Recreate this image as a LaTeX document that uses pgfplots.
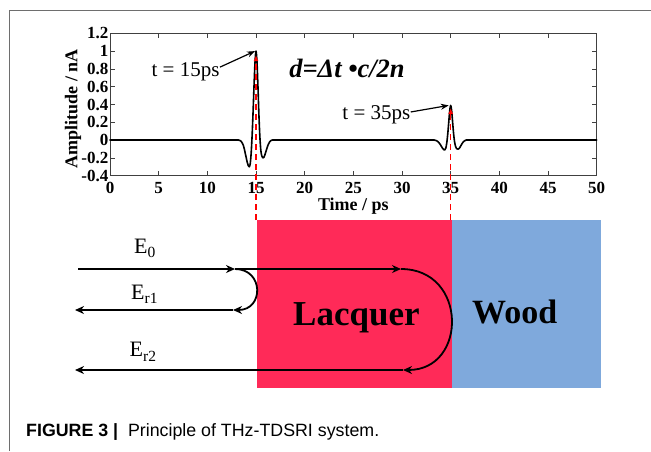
\documentclass[border=0pt]{standalone}
\usepackage{fontspec}
\setmainfont{Liberation Serif}
\newfontfamily\capfont{Liberation Sans}
\usepackage{pgfplots}
\pgfplotsset{compat=1.18}
\usetikzlibrary{arrows.meta}
\definecolor{lacq}{RGB}{255,42,88}
\definecolor{wood}{RGB}{127,169,220}
\definecolor{axgray}{RGB}{64,64,64}
\definecolor{framegray}{RGB}{110,110,110}
\newcommand{\Esub}[1]{{\fontsize{22}{26}\selectfont E\raisebox{-4.5pt}{\fontsize{15.5}{18}\selectfont #1}}}
\begin{document}
\begin{tikzpicture}
% ---------- background schematic (pixel coordinates, y downward)
\begin{axis}[name=bg, at={(0pt,0pt)}, anchor=south west, scale only axis,
  width=651pt, height=451pt, xmin=0, xmax=651, ymin=0, ymax=451,
  y dir=reverse, hide axis, clip=false]
\draw[framegray, line width=0.8pt] (axis cs:9,451) -- (axis cs:9,10) -- (axis cs:651,10);
\addplot[fill=lacq, draw=none] coordinates {(256.7,220) (451.7,220) (451.7,388) (256.7,388)} -- cycle;
\addplot[fill=wood, draw=none] coordinates {(451.7,220) (600.7,220) (600.7,388) (451.7,388)} -- cycle;
% arrows
\draw[black, line width=1.8pt, -{Stealth[length=9pt,width=8pt]}] (axis cs:78,269) -- (axis cs:235,269);
\draw[black, line width=1.8pt, -{Stealth[length=9pt,width=8pt]}] (axis cs:235,269) -- (axis cs:401,269);
\draw[black, line width=1.8pt, -{Stealth[length=9pt,width=8pt]}] (axis cs:235,269) .. controls (axis cs:264,269) and (axis cs:264,310) .. (axis cs:233,310);
\draw[black, line width=1.8pt, -{Stealth[length=9pt,width=8pt]}] (axis cs:233,310) -- (axis cs:75,310);
\draw[black, line width=1.8pt, -{Stealth[length=9pt,width=8pt]}] (axis cs:401,269) .. controls (axis cs:467.7,269) and (axis cs:467.7,370) .. (axis cs:403,370);
\draw[black, line width=1.8pt, -{Stealth[length=9pt,width=8pt]}] (axis cs:403,370) -- (axis cs:75,370);
% labels
\node[anchor=base west, inner sep=0pt] at (axis cs:134,253.3) {\Esub{0}};
\node[anchor=base west, inner sep=0pt] at (axis cs:131,299.3) {\Esub{r1}};
\node[anchor=base west, inner sep=0pt] at (axis cs:129.5,356.7) {\Esub{r2}};
\node[anchor=base west, inner sep=0pt, font=\fontsize{35}{38}\selectfont\bfseries] at (axis cs:293,325) {Lacquer};
\node[anchor=base west, inner sep=0pt, font=\fontsize{34}{38}\selectfont\bfseries] at (axis cs:472,323) {Wood};
% caption
\node[anchor=base west, inner sep=0pt, font=\capfont\fontsize{17.8}{20}\selectfont] at (axis cs:26,436.7) {\textbf{FIGURE 3 |}\hspace{0.55em}Principle of THz-TDSRI system.};
\end{axis}
% ---------- signal plot
\begin{axis}[at={(110pt,275.3pt)}, anchor=south west, scale only axis,
  width=486.7pt, height=142.4pt,
  xmin=0, xmax=50, ymin=-0.4, ymax=1.2,
  xtick={0,5,10,15,20,25,30,35,40,45,50},
  ytick={-0.4,-0.2,0,0.2,0.4,0.6,0.8,1,1.2},
  tick align=inside, tick pos=both,
  axis line style={axgray, line width=0.9pt},
  major tick style={axgray, line width=0.8pt}, major tick length=4.5pt,
  /pgf/number format/assume math mode=true,
  tick label style={font=\fontsize{17}{17}\selectfont\bfseries},
  yticklabel style={inner sep=1.5pt},
  xticklabel style={inner sep=1.5pt, yshift=-5pt},
  xlabel={Time / ps}, ylabel={Amplitude / nA},
  label style={font=\fontsize{18}{18}\selectfont\bfseries},
  xlabel style={at={(axis description cs:0.5,-0.215)}, anchor=center},
  ylabel style={at={(axis description cs:-0.076,0.47)}, anchor=center},
  clip=false]
\addplot[black, line width=1.6pt, line cap=round] coordinates {(0,0) (13.2,0)};
\addplot[black, line width=1.6pt, line cap=round] coordinates {(16.7,0) (33.3,0)};
\addplot[black, line width=1.6pt, line cap=round] coordinates {(36.6,0) (50,0)};
\addplot[black, line width=1.6pt, line cap=round, line join=round, smooth, tension=0.5] coordinates {
(13.2,0) (13.3,-0.003) (13.4,-0.008) (13.5,-0.018) (13.6,-0.035) (13.7,-0.06) (13.8,-0.10)
(13.9,-0.15) (14.0,-0.20) (14.1,-0.25) (14.2,-0.285) (14.3,-0.30) (14.4,-0.27) (14.5,-0.15)
(14.6,0.05) (14.7,0.32) (14.8,0.62) (14.9,0.88) (15.0,1.00) (15.1,0.88) (15.2,0.60)
(15.3,0.28) (15.4,0.03) (15.5,-0.12) (15.6,-0.18) (15.7,-0.20) (15.8,-0.195) (15.9,-0.17)
(16.0,-0.135) (16.1,-0.10) (16.2,-0.065) (16.3,-0.04) (16.4,-0.02) (16.5,-0.008) (16.6,-0.002) (16.7,0)};
\addplot[black, line width=1.6pt, line cap=round, line join=round, smooth, tension=0.5] coordinates {
(33.3,0) (33.4,-0.002) (33.5,-0.005) (33.6,-0.01) (33.7,-0.018) (33.8,-0.03) (33.9,-0.045)
(34.0,-0.062) (34.1,-0.08) (34.2,-0.097) (34.3,-0.108) (34.4,-0.11) (34.5,-0.09) (34.6,-0.03)
(34.7,0.07) (34.8,0.20) (34.9,0.33) (35.0,0.39) (35.1,0.33) (35.2,0.20) (35.3,0.07)
(35.4,-0.02) (35.5,-0.07) (35.6,-0.095) (35.7,-0.10) (35.8,-0.10) (35.9,-0.09) (36.0,-0.072)
(36.1,-0.052) (36.2,-0.034) (36.3,-0.02) (36.4,-0.01) (36.5,-0.004) (36.6,0)};
% red dashed guide arrows
\draw[red, line width=1.3pt, dash pattern=on 6pt off 4pt, -{Latex[length=6pt,width=5pt]}] (axis cs:15,-0.898) -- (axis cs:15,0.955);
\draw[red, line width=1.3pt, dash pattern=on 6pt off 4pt, -{Latex[length=6pt,width=5pt]}] (axis cs:35,-0.898) -- (axis cs:35,0.36);
% annotations
\node[font=\fontsize{21}{24}\selectfont, anchor=center] at (axis cs:7.76,0.768) {t = 15ps};
\draw[black, line width=1.2pt, -{Stealth[length=8pt,width=6pt]}] (axis cs:11.3,0.82) -- (axis cs:14.9,1.0);
\node[font=\fontsize{21}{24}\selectfont, anchor=center] at (axis cs:27.37,0.282) {t = 35ps};
\draw[black, line width=1.2pt, -{Stealth[length=8pt,width=6pt]}] (axis cs:30.9,0.316) -- (axis cs:34.8,0.39);
\node[font=\fontsize{26.5}{30}\selectfont\bfseries\itshape, anchor=center] at (axis cs:24.35,0.81) {d=Δt •c/2n};
\end{axis}
\pgfresetboundingbox
\path (0pt,0pt) rectangle (651pt,451pt);
\end{tikzpicture}
\end{document}
